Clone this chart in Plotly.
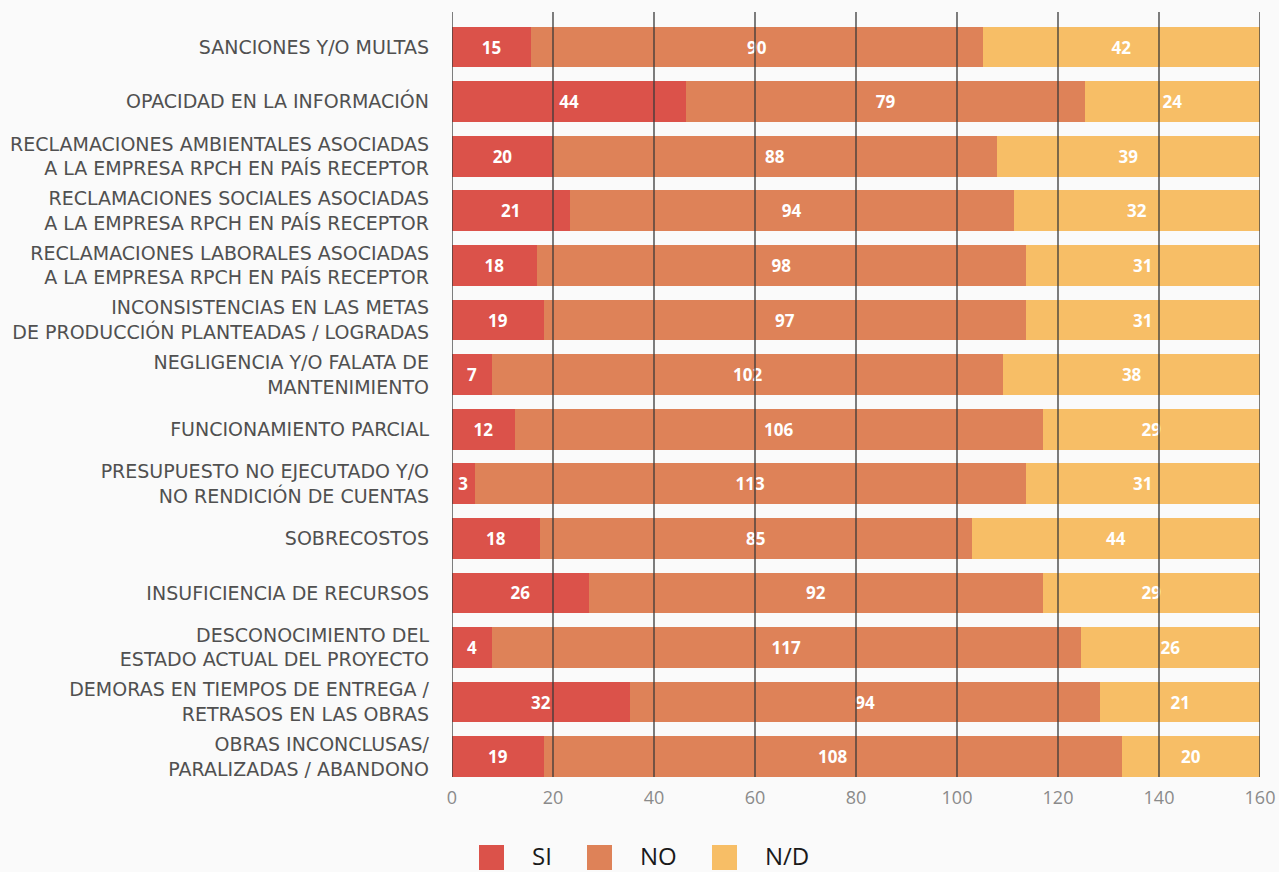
import plotly.graph_objects as go

categories = [
    "SANCIONES Y/O MULTAS",
    "OPACIDAD EN LA INFORMACIÓN",
    "RECLAMACIONES AMBIENTALES ASOCIADAS<br>A LA EMPRESA RPCH EN PAÍS RECEPTOR",
    "RECLAMACIONES SOCIALES ASOCIADAS<br>A LA EMPRESA RPCH EN PAÍS RECEPTOR",
    "RECLAMACIONES LABORALES ASOCIADAS<br>A LA EMPRESA RPCH EN PAÍS RECEPTOR",
    "INCONSISTENCIAS EN LAS METAS<br>DE PRODUCCIÓN PLANTEADAS / LOGRADAS",
    "NEGLIGENCIA Y/O FALATA DE<br>MANTENIMIENTO",
    "FUNCIONAMIENTO PARCIAL",
    "PRESUPUESTO NO EJECUTADO Y/O<br>NO RENDICIÓN DE CUENTAS",
    "SOBRECOSTOS",
    "INSUFICIENCIA DE RECURSOS",
    "DESCONOCIMIENTO DEL<br>ESTADO ACTUAL DEL PROYECTO",
    "DEMORAS EN TIEMPOS DE ENTREGA /<br>RETRASOS EN LAS OBRAS",
    "OBRAS INCONCLUSAS/<br>PARALIZADAS / ABANDONO",
]

# Labelled values
si_labels = [15, 44, 20, 21, 18, 19, 7, 12, 3, 18, 26, 4, 32, 19]
no_labels = [90, 79, 88, 94, 98, 97, 102, 106, 113, 85, 92, 117, 94, 108]
nd_labels = [42, 24, 39, 32, 31, 31, 38, 29, 31, 44, 29, 26, 21, 20]

# Bar lengths as drawn in the picture
si_bar = [15.6, 46.4, 20.0, 23.3, 16.8, 18.2, 7.9, 12.4, 4.5, 17.4, 27.1, 7.9, 35.2, 18.2]
no_bar = [89.5, 78.9, 87.9, 87.9, 96.8, 95.4, 101.3, 104.6, 109.1, 85.5, 89.9, 116.6, 93.2, 114.4]
nd_bar = [54.9, 34.7, 52.1, 48.8, 46.4, 46.4, 50.8, 43.0, 46.4, 57.1, 43.0, 35.5, 31.6, 27.4]

series_names = ["SI", "NO", "N/D"]
series_colors = ["#db524a", "#de8258", "#f7be66"]
tick_vals = [0, 20, 40, 60, 80, 100, 120, 140, 160]

FONT = "DejaVu Sans"
FONT_BAR = "Open Sans"

fig = go.Figure()
for name, bars, labels, color in zip(series_names, [si_bar, no_bar, nd_bar],
                                     [si_labels, no_labels, nd_labels], series_colors):
    fig.add_trace(go.Bar(
        y=categories, x=bars, name=name, orientation="h",
        marker=dict(color=color, line=dict(width=0)),
        text=[str(v) for v in labels], textposition="inside",
        insidetextanchor="middle", textangle=0, constraintext="none",
        textfont=dict(family=FONT_BAR, size=17, color="white", weight="bold"),
        showlegend=False, hoverinfo="skip",
    ))

shapes = []
for t in tick_vals:
    shapes.append(dict(type="line", xref="x", yref="paper", x0=t, x1=t, y0=0, y1=1,
                       line=dict(color="#3a3a3a", width=1.3), layer="above"))

# Manual legend
legend_x = [479, 587, 712]
W, H = 1279, 872
L, R, T, B = 452, 19, 12, 95
pw, ph = W - L - R, H - T - B
annotations = []
for lx, name, color in zip(legend_x, series_names, series_colors):
    x0 = (lx - L) / pw
    x1 = (lx + 25 - L) / pw
    y0 = -(845 - (T + ph)) / ph
    y1 = -(870 - (T + ph)) / ph
    shapes.append(dict(type="rect", xref="paper", yref="paper", x0=x0, x1=x1,
                       y0=y0, y1=y1, fillcolor=color, line=dict(width=0)))
    annotations.append(dict(text=name, xref="paper", yref="paper",
                            x=(lx + 51 - L) / pw, y=-(855 - (T + ph)) / ph,
                            xanchor="left", yanchor="middle", showarrow=False,
                            font=dict(family=FONT_BAR, size=24, color="#1a1a1a")))

fig.update_layout(
    barmode="stack", bargap=0.254,
    width=W, height=H,
    margin=dict(l=L, r=R, t=T, b=B, autoexpand=False),
    paper_bgcolor="#fafafa", plot_bgcolor="#fafafa",
    shapes=shapes, annotations=annotations,
    font=dict(family=FONT),
    xaxis=dict(range=[0, 160], tickvals=tick_vals, showgrid=False, zeroline=False,
               showline=False, ticks="", tickfont=dict(family=FONT_BAR, size=18, color="#8a8a8a"),
               ticklabelstandoff=8),
    yaxis=dict(type="category", categoryorder="array", categoryarray=categories,
               range=[13.373, -0.643], showgrid=False, zeroline=False, ticks="",
               tickfont=dict(size=19, color="#505050"), ticklabelstandoff=22),
)

fig.write_html("out.html", config={"displayModeBar": False},
               post_script="document.body.style.margin='0';document.body.style.overflow='hidden';")
